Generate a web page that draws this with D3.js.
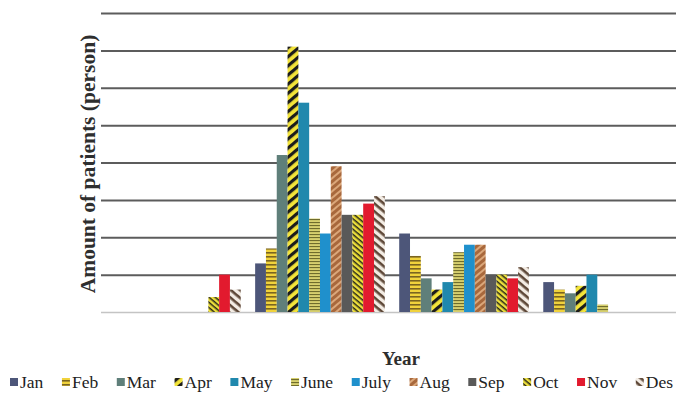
<!DOCTYPE html>
<html>
<head>
<meta charset="utf-8">
<script src="https://cdn.jsdelivr.net/npm/d3@7"></script>
<style>
  html, body { margin: 0; padding: 0; background: #ffffff; }
  svg { display: block; }
</style>
</head>
<body>
<svg id="chart" width="676" height="398"></svg>
<script>
// Patients per month, one group of bars per year period
const periods = ["P1", "P2", "P3", "P4"];
const months = ["Jan", "Feb", "Mar", "Apr", "May", "June", "July", "Aug", "Sep", "Oct", "Nov", "Des"];

const jan  = [0, 13, 21, 8];
const feb  = [0, 17, 15, 6];
const mar  = [0, 42, 9, 5];
const apr  = [0, 71, 6, 7];
const may  = [0, 56, 8, 10];
const june = [0, 25, 16, 2];
const july = [0, 21, 18, 0];
const aug  = [0, 39, 18, 0];
const sep  = [0, 26, 10, 0];
const oct  = [4, 26, 10, 0];
const nov  = [10, 29, 9, 0];
const des  = [6, 31, 12, 0];

const yTicks = [0, 10, 20, 30, 40, 50, 60, 70, 80];

const seriesValues = [jan, feb, mar, apr, may, june, july, aug, sep, oct, nov, des];

const svg = d3.select("#chart");
const defs = svg.append("defs");

// Fill styles for each month
function solid(c) { return c; }
function stripes(id, size, angle, bg, fg, fgWidth) {
  const p = defs.append("pattern")
    .attr("id", id)
    .attr("patternUnits", "userSpaceOnUse")
    .attr("width", size).attr("height", size)
    .attr("patternTransform", `rotate(${angle})`);
  p.append("rect").attr("width", size).attr("height", size).attr("fill", bg);
  p.append("rect").attr("width", size).attr("height", fgWidth).attr("fill", fg);
  return `url(#${id})`;
}

const fills = {
  "Jan":  solid("#4d5679"),
  "Feb":  stripes("pFeb", 4, 0, "#f0d23c", "#7a6420", 1.6),
  "Mar":  solid("#5f7f7a"),
  "Apr":  stripes("pApr", 7, -40, "#f3e43a", "#1c1c1c", 3.2),
  "May":  solid("#2088ad"),
  "June": stripes("pJune", 3, 0, "#d6cf6e", "#6f6c2c", 1.1),
  "July": solid("#1f90cc"),
  "Aug":  stripes("pAug", 5, -40, "#a8683c", "#dba77a", 2),
  "Sep":  solid("#595959"),
  "Oct":  stripes("pOct", 4, 40, "#ecde3a", "#2a2a1a", 1.5),
  "Nov":  solid("#e21a2e"),
  "Des":  stripes("pDes", 6, 40, "#f3ece4", "#5e4838", 2.6)
};

// Scales
const x0 = d3.scaleBand().domain(periods).range([101, 683]).paddingInner(0.1).paddingOuter(0.07);
const x1 = d3.scaleBand().domain(months).range([0, x0.bandwidth()]).padding(0);
const y = d3.scaleLinear().domain([0, 80]).range([312, 13]);

// Horizontal gridlines
const gridAxis = d3.axisLeft(y).tickValues(yTicks).tickSize(-(676 - 101)).tickFormat("");
const grid = svg.append("g").attr("transform", "translate(101,0)").call(gridAxis);
grid.select(".domain").remove();
grid.selectAll(".tick line")
  .attr("stroke", d => d === 0 ? "#c4c4c4" : "#5c5c5c")
  .attr("stroke-width", d => d === 0 ? 1.5 : 2);

// Bars
const groups = svg.append("g").selectAll("g")
  .data(periods)
  .join("g")
  .attr("transform", d => `translate(${x0(d)},0)`);

groups.selectAll("rect")
  .data((p, i) => months.map((m, k) => ({ month: m, value: seriesValues[k][i] })).filter(d => d.value > 0))
  .join("rect")
  .attr("x", d => x1(d.month))
  .attr("width", x1.bandwidth())
  .attr("y", d => y(d.value))
  .attr("height", d => y(0) - y(d.value))
  .attr("fill", d => fills[d.month]);

// Axis titles
svg.append("text")
  .attr("transform", "translate(95,164) rotate(-90)")
  .attr("text-anchor", "middle")
  .attr("font-family", "Liberation Serif, Times New Roman, serif")
  .attr("font-weight", "bold")
  .attr("font-size", 21.5)
  .attr("fill", "#2e2e2e")
  .text("Amount of patients (person)");

svg.append("text")
  .attr("x", 401).attr("y", 365)
  .attr("text-anchor", "middle")
  .attr("font-family", "Liberation Serif, Times New Roman, serif")
  .attr("font-weight", "bold")
  .attr("font-size", 19)
  .attr("fill", "#2e2e2e")
  .text("Year");

// Legend
const legend = svg.append("g");
const items = legend.selectAll("g").data(months).join("g");
items.append("rect")
  .attr("width", 8).attr("height", 8)
  .attr("y", -10)
  .attr("fill", d => fills[d]);
items.append("text")
  .attr("x", 10)
  .attr("font-family", "Liberation Serif, Times New Roman, serif")
  .attr("font-size", 17.5)
  .attr("fill", "#222")
  .text(d => d);

const widths = [];
items.each(function () { widths.push(10 + d3.select(this).select("text").node().getComputedTextLength()); });
const total = d3.sum(widths);
const gap = (663 - total) / (months.length - 1);
let cx = 10;
items.attr("transform", (d, i) => {
  const t = `translate(${cx},388)`;
  cx += widths[i] + gap;
  return t;
});
</script>
</body>
</html>
